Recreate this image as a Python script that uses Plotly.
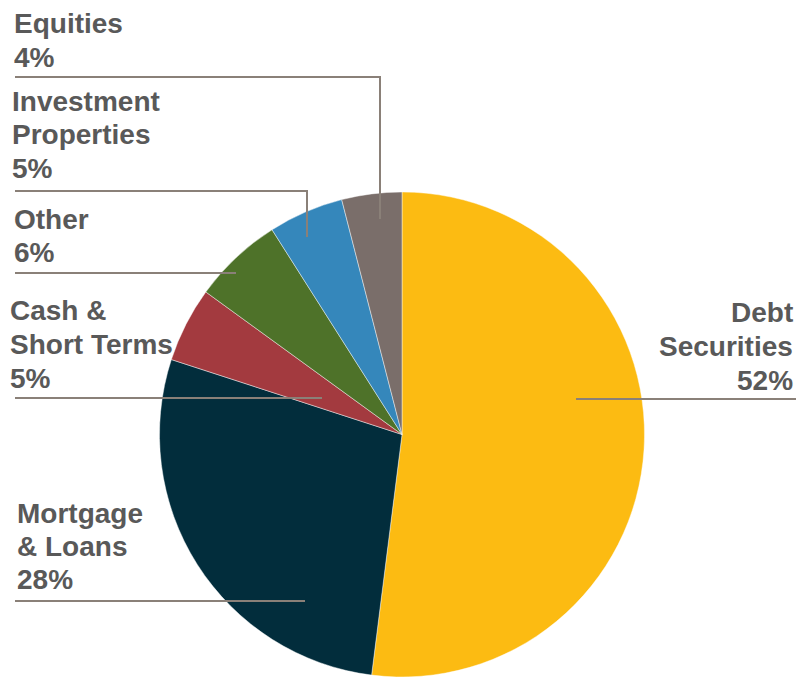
import plotly.graph_objects as go

# Asset allocation shares (percent), listed clockwise from 12 o'clock
categories = ["Debt Securities", "Mortgage & Loans", "Cash & Short Terms",
              "Other", "Investment Properties", "Equities"]
shares = [52, 28, 5, 6, 5, 4]
colors = ["#FCBB12", "#022D3C", "#A33A3F", "#4E7229", "#3587BB", "#7A6E6A"]

# Label text, one entry per line
label_lines = {
    "Debt Securities": ["Debt", "Securities"],
    "Mortgage & Loans": ["Mortgage", "& Loans"],
    "Cash & Short Terms": ["Cash &", "Short Terms"],
    "Other": ["Other"],
    "Investment Properties": ["Investment", "Properties"],
    "Equities": ["Equities"],
}

W, H = 796, 677
TEXT_COLOR = "#595959"
LINE_COLOR = "#8A8078"
FONT = dict(family="Liberation Sans", size=28, color=TEXT_COLOR)


def px(x):
    return x / W


def py(y):
    return 1 - y / H


fig = go.Figure(go.Pie(
    labels=categories,
    values=shares,
    sort=False,
    direction="clockwise",
    rotation=0,
    marker=dict(colors=colors, line=dict(color="rgba(255,255,255,0.55)", width=0.8)),
    textinfo="none",
    hoverinfo="label+percent",
    showlegend=False,
    domain=dict(x=[px(159), px(645)], y=[0, 485 / H]),
))

# label layout: (text x, anchor side, first-line centre y, line step, leader path)
label_layout = {
    "Equities": (14, "left", 23, 34.5, [(15, 77), (380, 77), (380, 219)]),
    "Investment Properties": (12, "left", 101.5, 33.5, [(15, 191), (307, 191), (307, 237)]),
    "Other": (14, "left", 219.5, 33.5, [(15, 273), (236, 273)]),
    "Cash & Short Terms": (10, "left", 311, 33.5, [(15, 398), (322, 398)]),
    "Mortgage & Loans": (17, "left", 513, 33.2, [(15, 601), (305, 601)]),
    "Debt Securities": (793, "right", 312.7, 33.7, [(576, 399), (796, 399)]),
}

annotations = []
shapes = []
for cat, val in zip(categories, shares):
    x0, side, y0, step, path = label_layout[cat]
    lines = label_lines[cat] + [f"{val}%"]
    for i, line in enumerate(lines):
        annotations.append(dict(
            text=f"<b>{line}</b>", x=px(x0), y=py(y0 + i * step),
            xref="paper", yref="paper", borderpad=0, borderwidth=0,
            xanchor=side, yanchor="middle", showarrow=False, font=FONT,
        ))
    d = "M " + " L ".join(f"{px(a)} {py(b)}" for a, b in path)
    shapes.append(dict(type="path", path=d, xref="paper", yref="paper",
                       line=dict(color=LINE_COLOR, width=2)))

fig.update_layout(
    width=W, height=H,
    margin=dict(l=0, r=0, t=0, b=0),
    paper_bgcolor="white",
    plot_bgcolor="white",
    annotations=annotations,
    shapes=shapes,
)

fig.write_html("out.html")
